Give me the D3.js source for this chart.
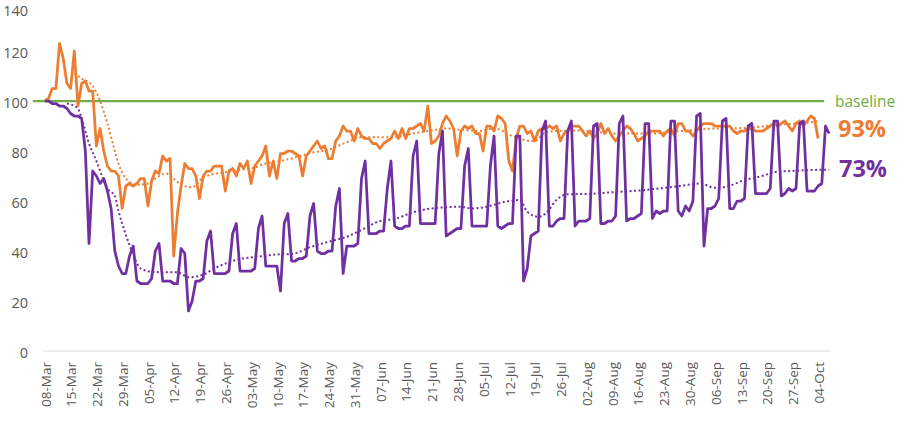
<!DOCTYPE html>
<html>
<head>
<meta charset="utf-8">
<script src="https://cdn.jsdelivr.net/npm/d3@7"></script>
<style>
  html, body { margin: 0; padding: 0; background: #fff; }
  #chart { width: 904px; height: 430px; }
  text { font-family: "Open Sans", "Noto Sans", sans-serif; }
</style>
</head>
<body>
<div id="chart"></div>
<script>
// daily series, first value is 08-Mar
const startDate = new Date(Date.UTC(2020, 2, 8));

const orangeValues = [
  100, 101, 105, 105, 123, 117, 107, 105, 120, 98,
  107, 108, 104, 104, 82, 89, 80, 74, 72, 72,
  70, 57, 66, 67, 66, 67, 69, 69, 58, 68,
  72, 71, 78, 76, 77, 38, 55, 66, 75, 73,
  73, 70, 61, 70, 72, 72, 74, 74, 74, 64,
  72, 73, 70, 75, 73, 76, 67, 74, 76, 78,
  82, 70, 76, 69, 79, 79, 80, 80, 79, 78,
  70, 78, 80, 82, 84, 81, 82, 77, 77, 84,
  86, 90, 88, 88, 84, 89, 86, 85, 85, 83,
  83, 81, 83, 84, 85, 88, 85, 89, 85, 89,
  89, 90, 91, 88, 98, 83, 84, 86, 91, 94,
  92, 89, 78, 88, 90, 89, 90, 87, 87, 80,
  90, 90, 88, 94, 93, 91, 76, 72, 85, 90,
  90, 87, 88, 84, 88, 89, 89, 90, 89, 90,
  84, 87, 88, 90, 90, 90, 88, 86, 88, 85,
  87, 91, 87, 89, 86, 84, 86, 88, 90, 89,
  87, 84, 85, 86, 88, 88, 88, 88, 86, 88,
  89, 86, 91, 91, 88, 88, 86, 88, 90, 91,
  91, 91, 90, 90, 90, 90, 90, 88, 87, 88,
  88, 89, 89, 88, 88, 88, 89, 90, 91, 90,
  91, 92, 90, 88, 91, 92, 90, 92, 94, 93,
  85
];

const purpleValues = [
  100, 100, 99, 99, 98, 98, 97, 95, 94, 94,
  93, 80, 43, 72, 70, 67, 69, 64, 57, 40,
  34, 31, 31, 38, 42, 28, 27, 27, 27, 29,
  40, 43, 28, 28, 28, 27, 27, 41, 39, 16,
  20, 28, 28, 29, 44, 48, 31, 31, 31, 31,
  32, 47, 51, 32, 32, 32, 32, 33, 49, 54,
  34, 34, 34, 34, 24, 51, 55, 36, 36, 37,
  37, 38, 54, 59, 40, 39, 39, 40, 40, 58,
  65, 31, 42, 42, 42, 43, 69, 76, 47, 47,
  47, 48, 48, 65, 76, 50, 49, 49, 50, 50,
  78, 84, 51, 51, 51, 51, 51, 79, 88, 46,
  47, 48, 49, 49, 74, 81, 50, 50, 50, 50,
  50, 74, 86, 50, 49, 50, 51, 51, 86, 86,
  28, 33, 46, 47, 48, 88, 92, 50, 50, 52,
  53, 53, 88, 92, 50, 52, 52, 52, 53, 90,
  91, 51, 51, 52, 52, 54, 91, 94, 52, 53,
  53, 54, 55, 91, 91, 53, 56, 55, 56, 56,
  92, 92, 56, 54, 58, 56, 60, 94, 95, 42,
  57, 57, 58, 61, 92, 93, 57, 57, 60, 60,
  61, 90, 91, 63, 63, 63, 63, 65, 92, 92,
  62, 63, 65, 64, 65, 91, 92, 64, 64, 64,
  66, 67, 90, 87
];

// dotted trend lines (day offset from 08-Mar, value)
const orangeTrendDays = [8, 10, 13, 15, 17, 19, 20, 22, 25, 28, 30, 33, 35, 37, 40, 43, 45, 49, 53, 56, 60, 64, 67, 73, 77, 82, 86, 91, 95, 100, 104, 109, 113, 118, 122, 127, 130, 133, 136, 139, 145, 155, 164, 173, 182, 190, 199, 208, 210];
const orangeTrendValues = [111, 109, 106, 100, 91, 80, 75, 69, 66.5, 67, 69, 71, 69, 66.5, 65.5, 69.5, 70.5, 71.5, 72.5, 73, 75, 76, 77, 79.5, 80.5, 83.5, 85.5, 85.5, 85.5, 87, 88, 89, 88.5, 88, 89, 86, 84.5, 84, 87.5, 88, 88.2, 87, 87, 88, 89, 89.2, 90.5, 91.5, 92];

const purpleTrendDays = [6, 9, 10, 12, 14, 17, 19, 20, 22, 24, 26, 29, 32, 36, 39, 43, 46, 50, 53, 58, 63, 67, 72, 77, 82, 86, 91, 95, 100, 104, 109, 113, 116, 120, 125, 129, 131, 134, 136, 139, 142, 147, 154, 163, 173, 178, 182, 185, 190, 194, 199, 203, 208, 213];
const purpleTrendValues = [99, 97, 93, 83, 76, 65, 62, 56, 46.5, 38.5, 33, 31.7, 31.5, 31.5, 29.5, 30.5, 33, 35.5, 36.8, 37.7, 38.6, 38.8, 41.5, 43.7, 45.7, 48.4, 52, 52.8, 55.5, 56.8, 57.5, 57.7, 57, 57.7, 59.7, 60.4, 55.7, 53.7, 55, 60.5, 62.7, 62.8, 63.5, 64.4, 66.1, 67, 65.3, 65.7, 68.4, 69.7, 71.7, 72, 72.4, 72.5];

const baselineValue = 100;
const yTicks = [0, 20, 40, 60, 80, 100, 120, 140];
const tickEveryDays = 7;
const endLabels = { baseline: 'baseline', orange: '93%', purple: '73%' };

const colors = {
  orange: '#ED7D31',
  purple: '#7030A0',
  green: '#70AD47',
  text: '#595959',
  axis: '#D9D9D9'
};

const width = 904;
const height = 430;
const plot = { left: 43, right: 831, top: 1, bottom: 351 };

const dayToDate = i => d3.utcDay.offset(startDate, i);
const lastDay = purpleValues.length - 1;

const svg = d3.select('#chart')
  .append('svg')
  .attr('width', width)
  .attr('height', height)
  .attr('viewBox', [0, 0, width, height]);

// category-like date axis: each day gets one slot, points in slot centres
const x = d3.scaleUtc()
  .domain([d3.utcHour.offset(dayToDate(0), -12), d3.utcHour.offset(dayToDate(lastDay), 12)])
  .range([plot.left, plot.right]);

const y = d3.scaleLinear()
  .domain([0, 140])
  .range([plot.bottom, plot.top]);

// y axis labels (no gridlines); the top one is nudged so it stays inside the frame
svg.append('g')
  .selectAll('text')
  .data(yTicks)
  .enter()
  .append('text')
  .attr('x', 28)
  .attr('y', d => Math.max(y(d) + 1.5, 10.5))
  .attr('dy', '0.35em')
  .attr('text-anchor', 'end')
  .attr('font-size', '14.5px')
  .attr('fill', colors.text)
  .text(d => d);

// x axis line + rotated date labels
svg.append('line')
  .attr('x1', plot.left)
  .attr('x2', plot.right)
  .attr('y1', y(0))
  .attr('y2', y(0))
  .attr('stroke', colors.axis)
  .attr('stroke-width', 1);

const tickDays = d3.range(0, lastDay + 1, tickEveryDays);
const fmt = d3.utcFormat('%d-%b');

svg.append('g')
  .selectAll('text')
  .data(tickDays)
  .enter()
  .append('text')
  .attr('transform', d => `translate(${x(dayToDate(d)) + 1}, ${y(0) + 11}) rotate(-90)`)
  .attr('dy', '0.35em')
  .attr('text-anchor', 'end')
  .attr('font-size', '13.5px')
  .attr('fill', colors.text)
  .text(d => fmt(dayToDate(d)));

// baseline
svg.append('line')
  .attr('x1', x(dayToDate(0)) - 12)
  .attr('x2', x(dayToDate(lastDay)) - 5)
  .attr('y1', y(baselineValue))
  .attr('y2', y(baselineValue))
  .attr('stroke', colors.green)
  .attr('stroke-width', 2.25);

const line = d3.line()
  .x(d => x(d.date))
  .y(d => y(d.value));

const trendLine = d3.line()
  .x(d => x(d.date))
  .y(d => y(d.value))
  .curve(d3.curveMonotoneX);

const toSeries = vals => vals.map((v, i) => ({ date: dayToDate(i), value: v }));
const toTrend = (days, vals) => days.map((dd, i) => ({ date: dayToDate(dd), value: vals[i] }));

// orange series + trend
svg.append('path')
  .datum(toSeries(orangeValues))
  .attr('fill', 'none')
  .attr('stroke', colors.orange)
  .attr('stroke-width', 2.75)
  .attr('stroke-linejoin', 'round')
  .attr('d', line);

svg.append('path')
  .datum(toTrend(orangeTrendDays, orangeTrendValues))
  .attr('fill', 'none')
  .attr('stroke', colors.orange)
  .attr('stroke-width', 2)
  .attr('stroke-dasharray', '2,2.5')
  .attr('d', trendLine);

// purple series + trend
svg.append('path')
  .datum(toSeries(purpleValues))
  .attr('fill', 'none')
  .attr('stroke', colors.purple)
  .attr('stroke-width', 2.75)
  .attr('stroke-linejoin', 'round')
  .attr('d', line);

svg.append('path')
  .datum(toTrend(purpleTrendDays, purpleTrendValues))
  .attr('fill', 'none')
  .attr('stroke', colors.purple)
  .attr('stroke-width', 2)
  .attr('stroke-dasharray', '2,2.5')
  .attr('d', trendLine);

// end labels
svg.append('text')
  .attr('x', 835)
  .attr('y', 107)
  .attr('font-size', '15.5px')
  .attr('fill', colors.green)
  .text(endLabels.baseline);

svg.append('text')
  .attr('x', 838)
  .attr('y', 137)
  .attr('font-size', '23.5px')
  .attr('font-weight', 'bold')
  .attr('fill', colors.orange)
  .text(endLabels.orange);

svg.append('text')
  .attr('x', 839)
  .attr('y', 177)
  .attr('font-size', '23.5px')
  .attr('font-weight', 'bold')
  .attr('fill', colors.purple)
  .text(endLabels.purple);
</script>
</body>
</html>
